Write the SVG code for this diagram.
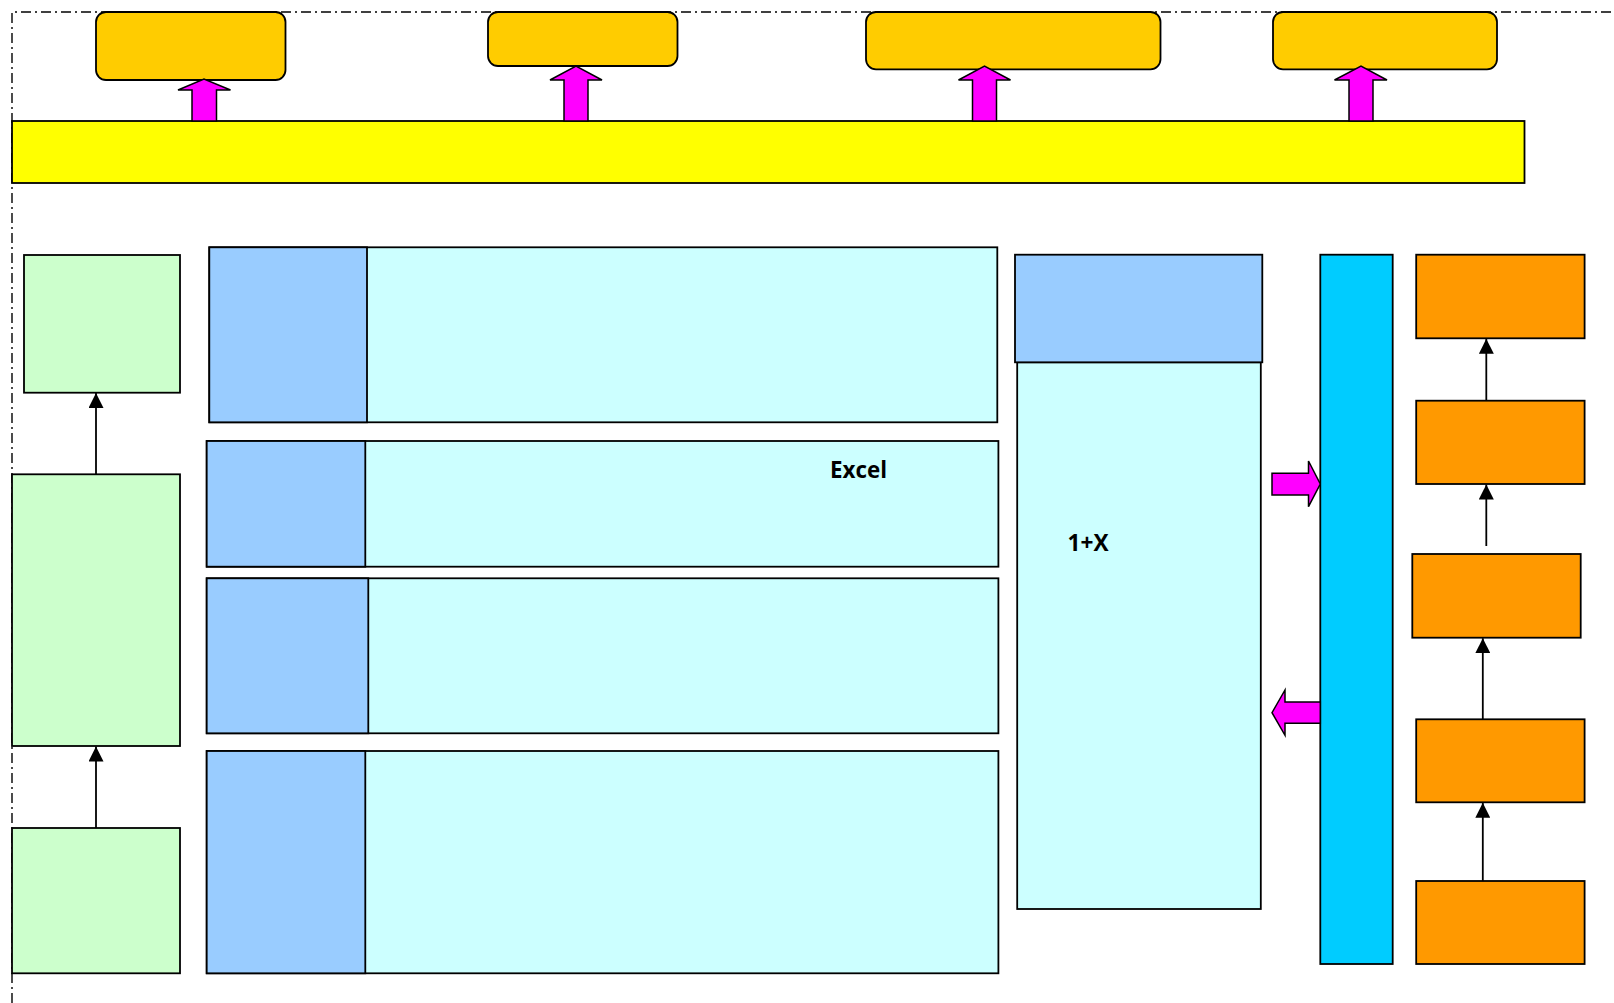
<svg xmlns="http://www.w3.org/2000/svg" width="1614" height="1003" viewBox="0 0 1614 1003">
<style>
.b{stroke:#000;stroke-width:1.8}
.top{fill:#FFCC00}
.yel{fill:#FFFF00}
.mag{fill:#FF00FF;stroke:#000;stroke-width:1.5;stroke-linejoin:miter}
.grn{fill:#CCFFCC}
.blu{fill:#99CCFF}
.cya{fill:#CCFFFF}
.bar{fill:#00CCFF}
.org{fill:#FF9900}
.lbl{font-family:"Open Sans","Liberation Sans",Arial,sans-serif;font-weight:bold;font-size:23px;fill:#000}
.con{stroke:#000;stroke-width:1.8;fill:none}
</style>
<defs>
<marker id="ah" viewBox="0 0 10 10" refX="10" refY="5" markerWidth="15" markerHeight="15" markerUnits="userSpaceOnUse" orient="auto">
<path d="M0,0 L10,5 L0,10 z" fill="#000"/>
</marker>
</defs>
<rect width="1614" height="1003" fill="#fff"/>
<path d="M12,1003 V12 H1614" fill="none" stroke="#000" stroke-width="1.4" stroke-dasharray="10 4 2 4"/>

<g id="yellow-bar"><rect class="yel b" x="12" y="121" width="1512.5" height="62"/></g>

<g id="top1"><rect class="top b" x="96" y="12" width="189.5" height="68" rx="10"/></g>
<g id="top2"><rect class="top b" x="488" y="12" width="189.5" height="54" rx="10"/></g>
<g id="top3"><rect class="top b" x="866" y="12" width="294.5" height="57.3" rx="10"/></g>
<g id="top4"><rect class="top b" x="1273" y="12" width="224" height="57.3" rx="10"/></g>

<g id="green1"><rect class="grn b" x="24" y="255" width="156" height="137.7"/></g>
<g id="green2"><rect class="grn b" x="12" y="474.3" width="168" height="271.7"/></g>
<g id="green3"><rect class="grn b" x="12" y="828" width="168" height="145.3"/></g>

<g id="row1"><rect class="cya b" x="209.3" y="247.3" width="788" height="175"/><rect class="blu b" x="209.3" y="247.3" width="157.7" height="175"/></g>
<g id="row2"><rect class="cya b" x="206.7" y="441" width="791.7" height="125.7"/><rect class="blu b" x="206.7" y="441" width="158.6" height="125.7"/><text class="lbl" x="830" y="478" textLength="57" lengthAdjust="spacingAndGlyphs">Excel</text></g>
<g id="row3"><rect class="cya b" x="206.7" y="578.3" width="791.7" height="155"/><rect class="blu b" x="206.7" y="578.3" width="161.6" height="155"/></g>
<g id="row4"><rect class="cya b" x="206.7" y="751" width="791.7" height="222.3"/><rect class="blu b" x="206.7" y="751" width="158.6" height="222.3"/></g>

<g id="middle"><rect class="cya b" x="1017.2" y="362.3" width="243.6" height="546.7"/><rect class="blu b" x="1015" y="254.7" width="247.3" height="107.6"/><text class="lbl" x="1067.5" y="551" textLength="41" lengthAdjust="spacingAndGlyphs">1+X</text></g>

<g id="cyan-bar"><rect class="bar b" x="1320.3" y="254.7" width="72.4" height="709.3"/></g>

<g id="o1"><rect class="org b" x="1416.2" y="254.7" width="168.4" height="83.6"/></g>
<g id="o2"><rect class="org b" x="1416.2" y="400.7" width="168.4" height="83.3"/></g>
<g id="o3"><rect class="org b" x="1412.3" y="554" width="168.4" height="83.7"/></g>
<g id="o4"><rect class="org b" x="1416.2" y="719.3" width="168.4" height="83"/></g>
<g id="o5"><rect class="org b" x="1416.2" y="881" width="168.4" height="83"/></g>

<g id="connectors">
<polygon class="mag" points="192,121 192,90 178,90 204,79 230.5,90 216.5,90 216.5,121"/>
<polygon class="mag" points="564,121 564,80 550,80 576,66 602,80 588,80 588,121"/>
<polygon class="mag" points="972.5,121 972.5,80 958.5,80 984.5,66 1010.5,80 996.5,80 996.5,121"/>
<polygon class="mag" points="1349,121 1349,80 1334.5,80 1361,66 1387,80 1373,80 1373,121"/>
<polygon class="mag" points="1272,473.3 1308.5,473.3 1308.5,461 1320.3,484 1308.5,506.7 1308.5,495 1272,495"/>
<polygon class="mag" points="1320.3,702 1285,702 1285,690 1272,712.7 1285,735.3 1285,723.3 1320.3,723.3"/>
<line class="con" x1="96" y1="474.3" x2="96" y2="393" marker-end="url(#ah)"/>
<line class="con" x1="96" y1="828" x2="96" y2="746.5" marker-end="url(#ah)"/>
<line class="con" x1="1486.3" y1="400.7" x2="1486.3" y2="338.8" marker-end="url(#ah)"/>
<line class="con" x1="1486.3" y1="546" x2="1486.3" y2="484.5" marker-end="url(#ah)"/>
<line class="con" x1="1482.8" y1="719.3" x2="1482.8" y2="638.2" marker-end="url(#ah)"/>
<line class="con" x1="1482.8" y1="881" x2="1482.8" y2="802.8" marker-end="url(#ah)"/>
</g>
</svg>
